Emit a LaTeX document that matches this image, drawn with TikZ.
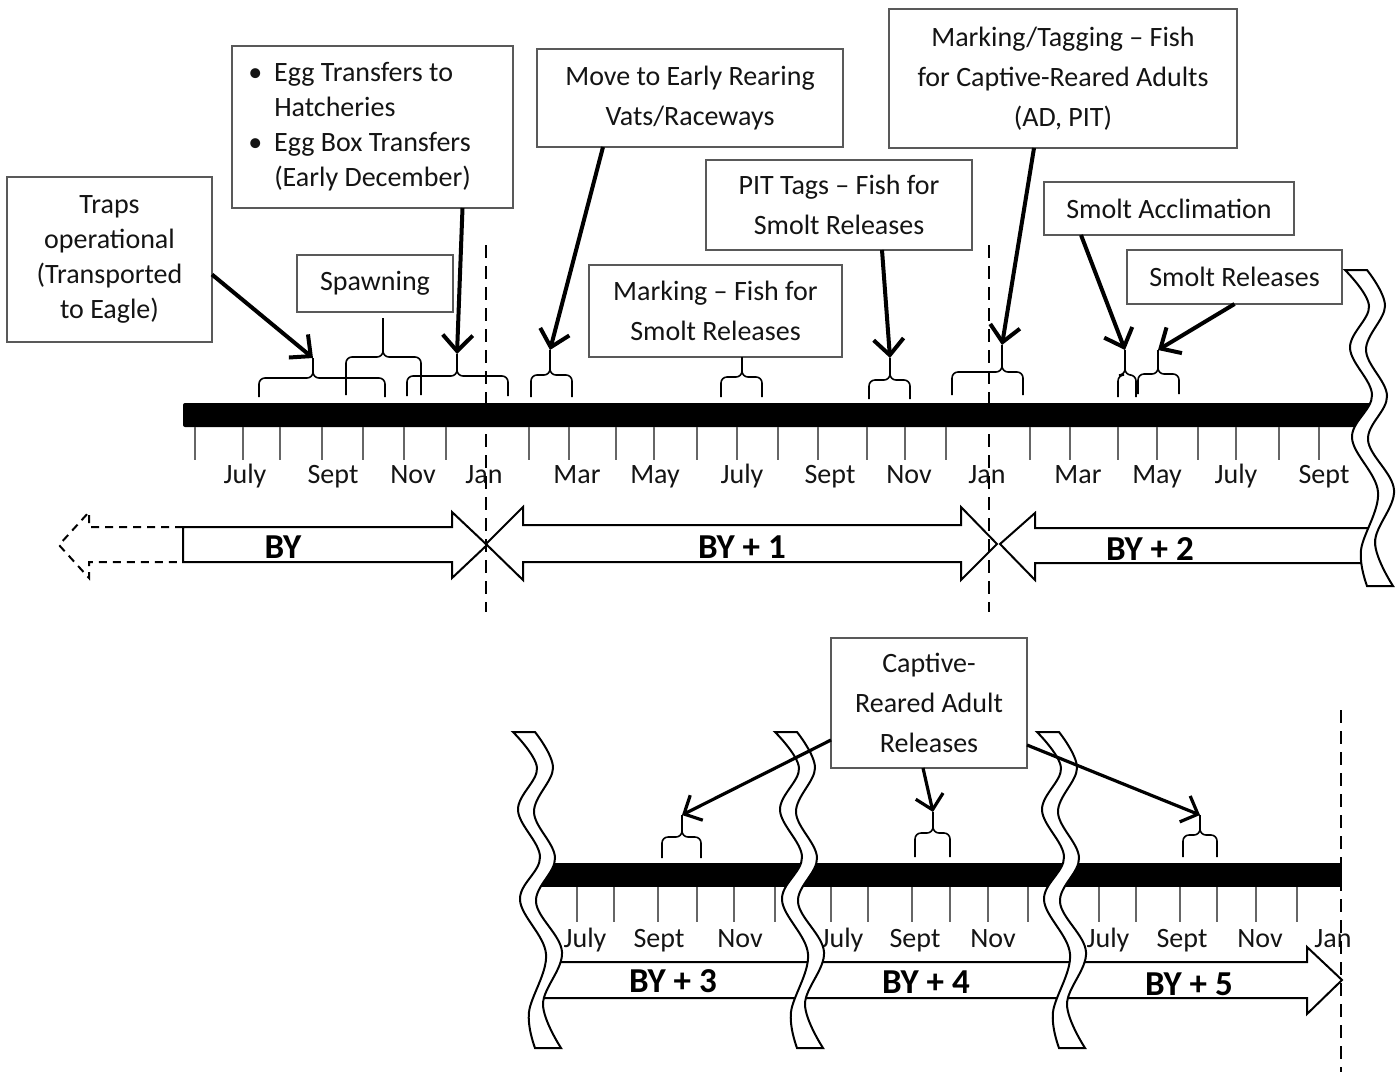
\documentclass[tikz,border=0pt]{standalone}
\usepackage{fontspec}
\setmainfont{Carlito}
\usetikzlibrary{arrows.meta}
\definecolor{txt}{gray}{0.08}
\definecolor{boxc}{gray}{0.35}
\definecolor{tickc}{gray}{0.4}
\newcommand\mybrc[7]{%
  \draw[brc] (#2,#5) -- (#2,#6) -- (#4,#6) -- (#4,#7);
  \draw[brc] (#3,#5) -- (#3,#6) -- (#4,#6) -- (#4,#7);
  \coordinate (#1) at (#4,#7);}
\newcommand\wavebreak[2]{%
  \begin{scope}[shift={(#1,#2)}]
  \draw[wv] plot[smooth, tension=0.6] coordinates {(0,0) (24,36) (5,78) (27,125) (7,168) (33,222) (16,280) (22,316)}
    -- plot[smooth, tension=0.6] coordinates {(48,316) (30,272) (49,220) (23,170) (42,126) (21,80) (40,36) (22,0)} -- cycle;
  \end{scope}}
\begin{document}
\begin{tikzpicture}[x=1pt,y=-1pt,
  box/.style={draw=boxc, line width=1.5pt, fill=white, outer sep=0pt, inner sep=0pt, align=center, text=txt, font=\fontsize{28}{40}\selectfont},
  mon/.style={anchor=base, text=txt, font=\fontsize{28}{34}\selectfont, inner sep=0pt},
  byl/.style={anchor=base, font=\fontsize{35}{40}\selectfont\bfseries, text=black, inner sep=0pt},
  tickline/.style={draw=tickc, line width=1.5pt},
  brc/.style={draw=black, line width=1.6pt, rounded corners=6pt},
  arr/.style={draw=black, line width=4pt, -{Straight Barb[length=16pt,width=30pt]}},
  arrthin/.style={draw=black, line width=3.2pt, -{Straight Barb[length=14pt,width=28pt]}},
  band/.style={draw=black, line width=2pt, line join=miter},
  dline/.style={draw=black, line width=2pt, dash pattern=on 13pt off 8pt},
  wv/.style={fill=white, draw=black, line width=2pt}]
\useasboundingbox[fill=white] (0,0) rectangle (1396,1072);

% boxes
\node[box, minimum width=205pt, minimum height=165pt, font=\fontsize{28}{35}\selectfont] (traps) at (109.5,259.5) {Traps\\operational\\(Transported\\to Eagle)};
\node[box, minimum width=281pt, minimum height=162pt, align=left, font=\fontsize{28}{35}\selectfont] (egg) at (372.5,127) {\llap{\textbullet\hspace{12pt}}Egg Transfers to\\Hatcheries\\\llap{\textbullet\hspace{12pt}}Egg Box Transfers\\(Early December)};
\node[box, minimum width=156pt, minimum height=57pt] (spawn) at (375,283.5) {Spawning};
\node[box, minimum width=306pt, minimum height=98pt] (move) at (690,98) {Move to Early Rearing\\Vats/Raceways};
\node[box, minimum width=266pt, minimum height=90pt] (pit) at (839,205) {PIT Tags – Fish for\\Smolt Releases};
\node[box, minimum width=348pt, minimum height=139pt] (mt) at (1063,78.5) {Marking/Tagging – Fish\\for Captive-Reared Adults\\(AD, PIT)};
\node[box, minimum width=250pt, minimum height=53pt] (acc) at (1169,208.5) {Smolt Acclimation};
\node[box, minimum width=215pt, minimum height=54pt] (sr) at (1234.5,277) {Smolt Releases};
\node[box, minimum width=253pt, minimum height=92pt] (mk) at (715.5,311) {Marking – Fish for\\Smolt Releases};
\node[box, minimum width=196pt, minimum height=130pt] (cap) at (929,703) {Captive-\\Reared Adult\\Releases};

% braces
\mybrc{bA}{259}{385}{313}{397}{378}{358}
\mybrc{bB}{346}{421}{383}{395}{357}{318}
\mybrc{bC}{407}{508}{457}{396}{376}{354}
\mybrc{bD}{531}{572}{550}{397}{375}{350}
\mybrc{bE}{721}{762}{742}{397}{377}{357}
\mybrc{bF}{869}{910}{890}{399}{380}{358}
\mybrc{bG}{952}{1023}{1002}{395}{372}{345}
\mybrc{bH}{1118}{1136}{1125}{397}{375}{350}
\mybrc{bI}{1138}{1179}{1158}{394}{374}{350}
\mybrc{bJ}{662}{701}{682}{858}{837}{815}
\mybrc{bK}{915}{950}{933}{857}{833}{812}
\mybrc{bL}{1183}{1217}{1200}{857}{835}{815}

% top timeline
\fill[black, rounded corners=2pt] (183,403) rectangle (1372,427);
\foreach \x in {195,243,280,322,363,404,446,529,569,616,654,697,737,778,818,867,905,946,1030,1070,1118,1157,1198,1236,1279,1319}
  \draw[tickline] (\x,427) -- (\x,460);
\foreach \x/\m [count=\i] in {245/July,333/Sept,413/Nov,484/Jan,577/Mar,655/May,742/July,830/Sept,909/Nov,987/Jan,1078/Mar,1157/May,1236/July,1324/Sept}
  \node[mon] (tm\i) at (\x,483) {\m};

% top year arrows
\draw[band] (183,527) -- (452,527) -- (452,512) -- (487,545) -- (452,578) -- (452,562) -- (183,562) -- cycle;
\draw[band, dash pattern=on 8pt off 6pt] (183,527) -- (89,527) -- (89,512) -- (59,545) -- (89,578) -- (89,562) -- (183,562);
\draw[band] (486,544) -- (523,507) -- (523,525) -- (961,525) -- (961,507) -- (997,544) -- (961,580) -- (961,562) -- (523,562) -- (523,580) -- cycle;
\draw[band] (1000,544) -- (1035,513) -- (1035,528) -- (1375,528) -- (1375,563) -- (1035,563) -- (1035,580) -- cycle;
\node[byl] (lby) at (283,558) {BY};
\node[byl] (lby1) at (742,558) {BY + 1};
\node[byl] (lby2) at (1150,560) {BY + 2};

\draw[dline] (486,245) -- (486,612);
\draw[dline] (989,245) -- (989,612);

% bottom timeline
\fill[black] (540,863) rectangle (1342,887);
\foreach \x in {577,614,658,697,734,775,831,868,912,950,988,1028,1099,1136,1180,1217,1256,1297}
  \draw[tickline] (\x,887) -- (\x,922);
\foreach \x/\m [count=\i] in {585/July,659/Sept,740/Nov,842/July,915/Sept,993/Nov,1108/July,1182/Sept,1260/Nov,1333/Jan}
  \node[mon] (bm\i) at (\x,947) {\m};
\draw[band, fill=white] (548,962) -- (1307,962) -- (1307,947) -- (1342,980) -- (1307,1014) -- (1307,998) -- (537,998) -- cycle;
\node[byl] (lby3) at (673,992) {BY + 3};
\node[byl] (lby4) at (926,993) {BY + 4};
\node[byl] (lby5) at (1189,995) {BY + 5};

% breaks
\wavebreak{1345}{270}
\wavebreak{513}{732}
\wavebreak{775}{732}
\wavebreak{1037}{732}

\draw[dline] (1341,710) -- (1341,1072);

% connectors
\draw[arr] ([yshift=-15pt]traps.east) -- (bA);
\draw[arr] ([xshift=90pt]egg.south) -- (bC);
\draw[arr] ([xshift=-87pt]move.south) -- (bD);
\draw[arr] ([xshift=43pt]pit.south) -- (bF);
\draw[arr] ([xshift=-29pt]mt.south) -- (bG);
\draw[arr] ([xshift=-88pt]acc.south) -- (bH);
\draw[arr] (sr.south) -- (bI);
\draw[arrthin] ([yshift=-37pt]cap.west) -- (bJ);
\draw[arrthin] ([xshift=-6pt]cap.south) -- (bK);
\draw[arrthin] ([yshift=-42pt]cap.east) -- (bL);
\end{tikzpicture}
\end{document}
